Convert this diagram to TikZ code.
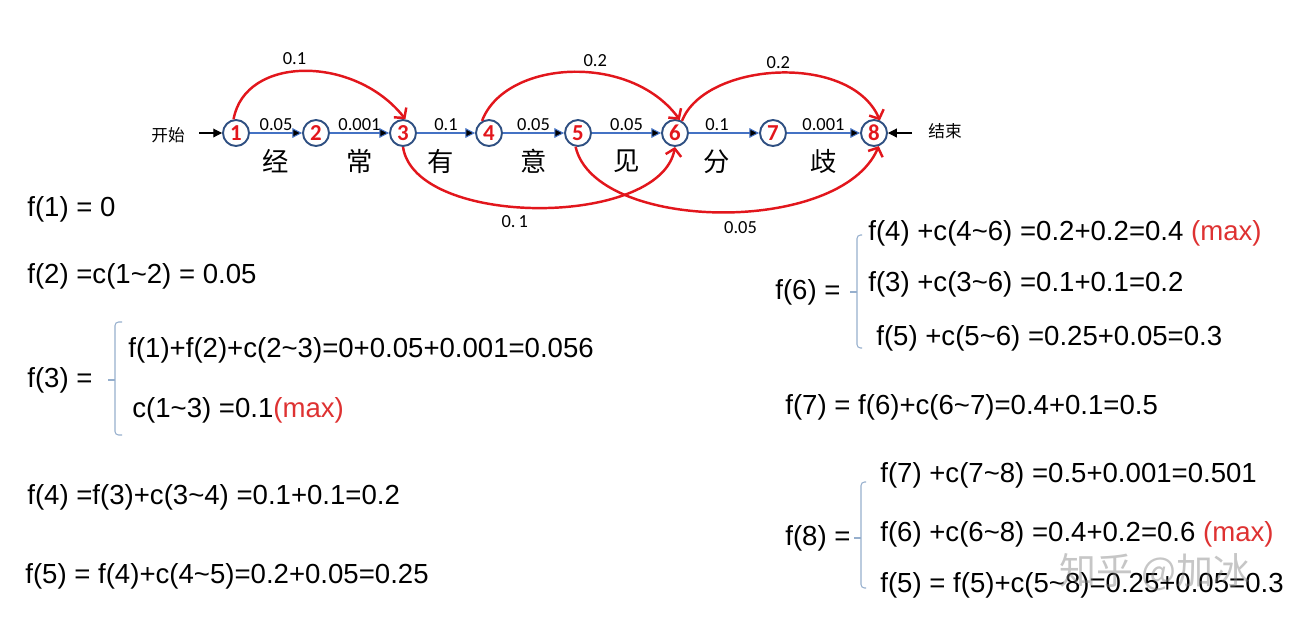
\documentclass[tikz,border=0pt]{standalone}
\usepackage{fontspec}
\setmainfont{Liberation Sans}
\newfontfamily\cjk{Noto Sans CJK SC}
\newfontfamily\lbl{Carlito}
\usetikzlibrary{arrows.meta}
\definecolor{penred}{RGB}{226,22,28}
\definecolor{maxred}{RGB}{222,50,50}
\definecolor{ringblue}{RGB}{47,80,130}
\definecolor{flowblue}{RGB}{68,114,196}
\definecolor{bracegray}{RGB}{150,175,205}
\newcommand\tildech{\textasciitilde}
\newcommand\mx{\textcolor{maxred}{(max)}}

\begin{document}
\begin{tikzpicture}[x=0.02cm, y=-0.02cm,
  state/.style={shape=circle, draw=ringblue, line width=1.1pt, minimum size=0.52cm, inner sep=0pt, text=penred, font=\lbl\bfseries\fontsize{13}{13}\selectfont},
  flow/.style={-{Triangle[length=5.5pt,width=5.5pt]}, draw=flowblue, line width=0.6pt},
  jump/.style={-{Straight Barb[length=4pt,width=9pt]}, draw=penred, line width=1.4pt},
  wt/.style={font=\lbl\fontsize{10.5}{10.5}\selectfont, inner sep=1pt},
  word/.style={font=\cjk\fontsize{15}{15}\selectfont, inner sep=0pt},
  eq/.style={anchor=west, inner sep=0pt, font=\fontsize{15.7}{18}\selectfont},
  brace/.style={draw=bracegray, line width=0.6pt, rounded corners=2pt}]
\useasboundingbox (0,0) rectangle (1305,630);

% lattice of the sentence
\node[state] (1) at (236,133) {1};
\node[state] (2) at (316,133) {2};
\node[state] (3) at (403,133) {3};
\node[state] (4) at (489,133) {4};
\node[state] (5) at (578,133) {5};
\node[state] (6) at (675,133) {6};
\node[state] (7) at (773,133) {7};
\node[state] (8) at (874,133) {8};

\node[font=\cjk\fontsize{9.5}{10}\selectfont] (start) at (168,135) {开始};
\node[font=\cjk\fontsize{9.5}{10}\selectfont] (end) at (945,131) {结束};
\coordinate (in) at (199,133);
\coordinate (out) at (912,133);
\draw[-{Triangle[length=5pt,width=5pt]}, line width=0.6pt] (in) -- (1);
\draw[-{Triangle[length=5pt,width=5pt]}, line width=0.6pt] (out) -- (8);

\path[flow] (1) edge node[wt, above] {0.05} node[word, below=9pt] {经} (2);
\path[flow] (2) edge node[wt, above] {0.001} node[word, below=9pt] {常} (3);
\path[flow] (3) edge node[wt, above] {0.1} node[word, below=9pt, pos=0.4] {有} (4);
\path[flow] (4) edge node[wt, above] {0.05} node[word, below=9pt] {意} (5);
\path[flow] (5) edge node[wt, above] {0.05} node[word, below=9pt] {见} (6);
\path[flow] (6) edge node[wt, above, pos=0.4] {0.1} node[word, below=9pt, pos=0.4] {分} (7);
\path[flow] (7) edge node[wt, above] {0.001} node[word, below=9pt] {歧} (8);

% jumps over several characters
\draw[jump] (1.100) .. controls (245,55) and (355,55) .. (3.80) node[wt, pos=0.45, above=2pt] {0.1};
\draw[jump] (4.120) .. controls (505,60) and (630,52) .. (6.70) node[wt, pos=0.6, above=2pt] {0.2};
\draw[jump] (6.60) .. controls (705,62) and (850,52) .. (8.65) node[wt, pos=0.5, above=1pt] {0.2};
\draw[jump] (3.-90) .. controls (415,228) and (660,228) .. (6.-90) node[wt, pos=0.44, below=3pt] {0.\,1};
\draw[jump] (5.-100) .. controls (595,232) and (840,236) .. (8.-70) node[wt, pos=0.55, below=4pt] {0.05};

% left column
\node[eq] (f1) at (27,209) {f(1) = 0};
\node[eq] (f2) at (27,276) {f(2) =c(1\tildech2) = 0.05};
\node[eq] (f3) at (27,380) {f(3) =};
\node[eq] (f3a) at (128,350) {f(1)+f(2)+c(2\tildech3)=0+0.05+0.001=0.056};
\node[eq] (f3b) at (132,410) {c(1\tildech3) =0.1\mx};
\draw[brace] (122,322) -- (115,322) -- (115,435) -- (122,435);
\draw[bracegray, line width=0.6pt] (115,380) -- (108,380);
\node[eq] (f4) at (27,497) {f(4) =f(3)+c(3\tildech4) =0.1+0.1=0.2};
\node[eq] (f5) at (25,576) {f(5) = f(4)+c(4\tildech5)=0.2+0.05=0.25};

% right column
\node[eq] (f6) at (775,292) {f(6) =};
\node[eq] (f6a) at (868,233) {f(4) +c(4\tildech6) =0.2+0.2=0.4 \mx};
\node[eq] (f6b) at (868,284) {f(3) +c(3\tildech6) =0.1+0.1=0.2};
\node[eq] (f6c) at (876,338) {f(5) +c(5\tildech6) =0.25+0.05=0.3};
\draw[brace] (862,235) -- (857,235) -- (857,348) -- (862,348);
\draw[bracegray, line width=0.6pt] (857,292) -- (850,292);
\node[eq] (f7) at (785,407) {f(7) = f(6)+c(6\tildech7)=0.4+0.1=0.5};
\node[eq] (f8) at (785,538) {f(8) =};
\node[eq] (f8a) at (880,475) {f(7) +c(7\tildech8) =0.5+0.001=0.501};
\node[eq] (f8b) at (880,534) {f(6) +c(6\tildech8) =0.4+0.2=0.6 \mx};
\node[eq] (f8c) at (880,585) {f(5) = f(5)+c(5\tildech8)=0.25+0.05=0.3};
\draw[brace] (866,482) -- (861,482) -- (861,588) -- (866,588);
\draw[bracegray, line width=0.6pt] (861,538) -- (854,538);

\node[font=\cjk\fontsize{21}{22}\selectfont, text=gray, text opacity=0.45] (mark) at (1155,572) {知乎 @加冰};
\end{tikzpicture}
\end{document}
